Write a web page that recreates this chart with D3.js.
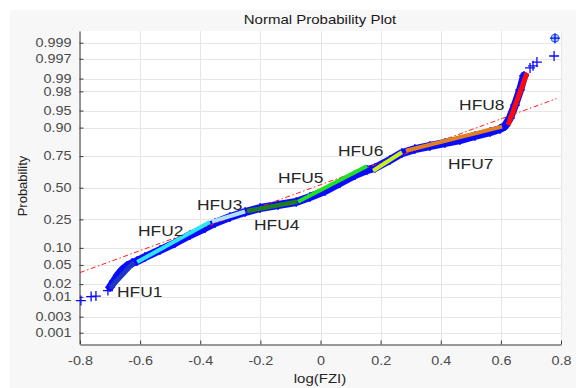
<!DOCTYPE html>
<html>
<head>
<meta charset="utf-8">
<script src="https://cdn.jsdelivr.net/npm/d3@7"></script>
<style>
  html, body { margin: 0; padding: 0; background: #fff; }
  svg { display: block; font-family: "Liberation Sans", Arial, Helvetica, sans-serif; }
</style>
</head>
<body>
<svg id="chart" width="576" height="388"></svg>
<script>
var xTicks = [-0.8, -0.6, -0.4, -0.2, 0, 0.2, 0.4, 0.6, 0.8];
var probTicks = [0.001, 0.003, 0.01, 0.02, 0.05, 0.10, 0.25, 0.50, 0.75, 0.90, 0.95, 0.98, 0.99, 0.997, 0.999];
var probTickLabels = ['0.001', '0.003', '0.01', '0.02', '0.05', '0.10', '0.25', '0.50', '0.75', '0.90', '0.95', '0.98', '0.99', '0.997', '0.999'];

var tailLowX = [-0.797, -0.763, -0.747, -0.707];
var tailLowP = [0.0081, 0.0102, 0.0105, 0.0142];
var bandX = [-0.700, -0.687, -0.674, -0.660, -0.644, -0.627, -0.610, -0.584, -0.534, -0.484, -0.434, -0.384, -0.351,
             -0.301, -0.251, -0.201, -0.141, -0.081, -0.035, 0.015, 0.065, 0.115, 0.155, 0.181, 0.231, 0.271,
             0.314, 0.364, 0.414, 0.464, 0.514, 0.564, 0.597, 0.614, 0.630, 0.647, 0.664, 0.677];
var bandP = [0.0171, 0.0233, 0.0314, 0.0396, 0.0475, 0.0541, 0.0590, 0.0697, 0.0921, 0.1192, 0.1567, 0.1952, 0.226,
             0.266, 0.302, 0.3325, 0.356, 0.380, 0.4215, 0.4717, 0.540, 0.607, 0.647, 0.663, 0.723, 0.770,
             0.795, 0.813, 0.830, 0.845, 0.865, 0.882, 0.8946, 0.906, 0.931, 0.961, 0.9814, 0.9914];
var tailHighX = [0.697, 0.707, 0.720, 0.777, 0.780];
var tailHighP = [0.99465, 0.9953, 0.9963, 0.9975, 0.99928];
var outlierX = [0.780];
var outlierP = [0.99928];

// normal reference line
var refX = [-0.8, 0.785];
var refP = [0.0353, 0.9712];

// hydraulic flow unit fits
var hfuNames = ['HFU1', 'HFU2', 'HFU3', 'HFU4', 'HFU5', 'HFU6', 'HFU7', 'HFU8'];
var hfuX0 = [-0.700, -0.610, -0.361, -0.244, -0.075, 0.175, 0.284, 0.624];
var hfuX1 = [-0.620, -0.368, -0.251, -0.078, 0.155, 0.271, 0.604, 0.687];
var hfuP0 = [0.0163, 0.0566, 0.2355, 0.3097, 0.3827, 0.6415, 0.785, 0.9094];
var hfuP1 = [0.0566, 0.2324, 0.306, 0.3827, 0.678, 0.775, 0.9034, 0.9928];
var labelX = [-0.677, -0.607, -0.411, -0.221, -0.141, 0.058, 0.424, 0.461];
var labelP = [0.0099, 0.1515, 0.3174, 0.1835, 0.540, 0.7505, 0.655, 0.9512];

var hfuColors = ['#1f35c4', '#2ee6f2', '#aee3f5', '#1e7d1e', '#22e022', '#c6f01e', '#e08020', '#ff0a0a'],
    hfuWidths = [5, 4, 4, 4.5, 4, 4, 4, 5];

var width = 576, height = 388,
    plotLeft = 80, plotRight = 561, plotTop = 31, plotBottom = 344,
    stretch = 1.2;

function probit(p) {
  var a = [-3.969683028665376e+01, 2.209460984245205e+02, -2.759285104469687e+02, 1.383577518672690e+02, -3.066479806614716e+01, 2.506628277459239e+00],
      b = [-5.447609879822406e+01, 1.615858368580409e+02, -1.556989798598866e+02, 6.680131188771972e+01, -1.328068155288572e+01],
      c = [-7.784894002430293e-03, -3.223964580411365e-01, -2.400758277161838e+00, -2.549732539343734e+00, 4.374664141464968e+00, 2.938163982698783e+00],
      d = [7.784695709041462e-03, 3.224671290700398e-01, 2.445134137142996e+00, 3.754408661907416e+00],
      plow = 0.02425, q, r;

  if(p < plow) {
    q = Math.sqrt(-2 * Math.log(p));
    return (((((c[0]*q+c[1])*q+c[2])*q+c[3])*q+c[4])*q+c[5]) / ((((d[0]*q+d[1])*q+d[2])*q+d[3])*q+1);
  }
  if(p > 1 - plow) {
    q = Math.sqrt(-2 * Math.log(1 - p));
    return -(((((c[0]*q+c[1])*q+c[2])*q+c[3])*q+c[4])*q+c[5]) / ((((d[0]*q+d[1])*q+d[2])*q+d[3])*q+1);
  }
  q = p - 0.5;
  r = q * q;
  return (((((a[0]*r+a[1])*r+a[2])*r+a[3])*r+a[4])*r+a[5])*q / (((((b[0]*r+b[1])*r+b[2])*r+b[3])*r+b[4])*r+1);
}

function zip(xs, ps) {
  return xs.map(function(v, i) { return [v, ps[i]]; });
}

var x = d3.scaleLinear().domain([-0.8, 0.8]).range([plotLeft, plotRight]),
    z = d3.scaleLinear().domain([-3.33, 3.34]).range([plotBottom, plotTop]);

function y(p) { return z(probit(p)); }

var svg = d3.select('#chart');

svg.append('rect').attr('x', 10).attr('y', 10)
  .attr('width', width - 10).attr('height', height - 10).attr('fill', '#f7f7f7');
svg.append('rect').attr('x', plotLeft).attr('y', plotTop)
  .attr('width', plotRight - plotLeft).attr('height', plotBottom - plotTop).attr('fill', '#fff');

// grid
var grid = svg.append('g').attr('stroke', '#e6e6e6').attr('stroke-width', 1);
grid.selectAll('line.vx').data(xTicks).join('line').attr('class', 'vx')
  .attr('x1', function(d) { return Math.round(x(d)) + 0.5; })
  .attr('x2', function(d) { return Math.round(x(d)) + 0.5; })
  .attr('y1', plotTop).attr('y2', plotBottom);
grid.selectAll('line.hy').data(probTicks).join('line').attr('class', 'hy')
  .attr('x1', plotLeft).attr('x2', plotRight)
  .attr('y1', function(d) { return Math.round(y(d)) + 0.5; })
  .attr('y2', function(d) { return Math.round(y(d)) + 0.5; });

// axes
var xAxis = d3.axisBottom(x).tickValues(xTicks)
  .tickFormat(function(d) { return d === 0 ? '0' : d.toFixed(1); })
  .tickSizeInner(-4).tickSizeOuter(0).tickPadding(12);
var yAxis = d3.axisLeft(z).tickValues(probTicks.map(probit))
  .tickFormat(function(d, i) { return probTickLabels[i]; })
  .tickSizeInner(-4).tickSizeOuter(0).tickPadding(8);

var gx = svg.append('g').attr('transform', 'translate(0,' + (plotBottom + 0.5) + ')').call(xAxis);
var gy = svg.append('g').attr('transform', 'translate(' + (plotLeft - 0.5) + ',0)').call(yAxis);

[gx, gy].forEach(function(g) {
  g.selectAll('.domain').attr('stroke', '#3a3a3a');
  g.selectAll('.tick line').attr('stroke', '#3a3a3a');
  g.selectAll('.tick text')
    .attr('fill', '#4a4a4a')
    .style('font-size', '12px')
    .style('font-family', '"Liberation Sans", Arial, sans-serif');
});
gx.selectAll('.tick text').attr('transform', 'scale(' + stretch + ',1)');
gy.selectAll('.tick text').attr('x', -8 / stretch).attr('transform', 'scale(' + stretch + ',1)');

// data band
var line = d3.line()
  .x(function(d) { return x(d[0]); })
  .y(function(d) { return y(d[1]); });

var band = zip(bandX, bandP);
svg.append('path').datum(band)
  .attr('d', line).attr('fill', 'none')
  .attr('stroke', '#0a0aff').attr('stroke-width', 8)
  .attr('stroke-linejoin', 'round').attr('stroke-linecap', 'round');

var points = zip(tailLowX, tailLowP).concat(band, zip(tailHighX, tailHighP));

svg.append('g').selectAll('circle').data(zip(outlierX, outlierP)).join('circle')
  .attr('cx', function(d) { return x(d[0]); })
  .attr('cy', function(d) { return y(d[1]); })
  .attr('r', 4).attr('fill', '#9fd0f0').attr('stroke', '#3b63d8');

svg.append('g').selectAll('path').data(points).join('path')
  .attr('transform', function(d) { return 'translate(' + x(d[0]) + ',' + y(d[1]) + ')'; })
  .attr('d', 'M-5,0H5M0,-5V5')
  .attr('stroke', '#0a0aff').attr('stroke-width', 1.3).attr('fill', 'none');

// reference line
svg.append('path').datum(zip(refX, refP))
  .attr('d', line).attr('fill', 'none')
  .attr('stroke', '#ff1a1a').attr('stroke-width', 1)
  .attr('stroke-dasharray', '5,2.5,1.5,2.5');

// HFU segments
svg.append('g').selectAll('line').data(hfuNames).join('line')
  .attr('x1', function(d, i) { return x(hfuX0[i]); })
  .attr('y1', function(d, i) { return y(hfuP0[i]); })
  .attr('x2', function(d, i) { return x(hfuX1[i]); })
  .attr('y2', function(d, i) { return y(hfuP1[i]); })
  .attr('stroke', function(d, i) { return hfuColors[i]; })
  .attr('stroke-width', function(d, i) { return hfuWidths[i]; });

svg.append('g').selectAll('text').data(hfuNames).join('text')
  .attr('transform', function(d, i) {
    return 'translate(' + x(labelX[i]) + ',' + y(labelP[i]) + ') scale(' + stretch + ',1)';
  })
  .attr('fill', '#262626').style('font-size', '14.5px')
  .text(function(d) { return d; });

// titles
svg.append('text')
  .attr('transform', 'translate(320,24) scale(' + stretch + ',1)')
  .attr('text-anchor', 'middle').attr('fill', '#1a1a1a').style('font-size', '12.5px')
  .text('Normal Probability Plot');

svg.append('text')
  .attr('transform', 'translate(320,383) scale(' + stretch + ',1)')
  .attr('text-anchor', 'middle').attr('fill', '#262626').style('font-size', '12.5px')
  .text('log(FZI)');

svg.append('text')
  .attr('transform', 'translate(26.5,186) rotate(-90)')
  .attr('text-anchor', 'middle').attr('fill', '#262626').style('font-size', '13px')
  .text('Probability');
</script>
</body>
</html>
